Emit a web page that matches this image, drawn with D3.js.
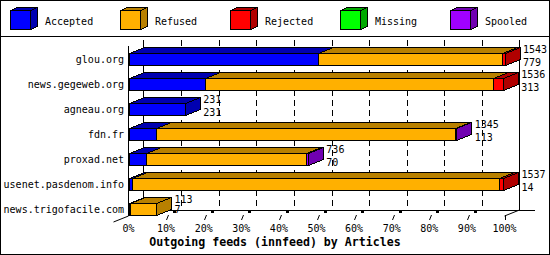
<!DOCTYPE html>
<html>
<head>
<meta charset="utf-8">
<script src="https://cdn.jsdelivr.net/npm/d3@7"></script>
<style>
  body { margin: 0; background: #fff; }
  text { font-family: "DejaVu Sans Mono", monospace; font-size: 10px; fill: #000; }
  .title { font-weight: bold; font-size: 11.6px; }
</style>
</head>
<body>
<div id="chart"></div>
<script>
// feeds and their article counts
var hosts = ["glou.org", "news.gegeweb.org", "agneau.org", "fdn.fr",
             "proxad.net", "usenet.pasdenom.info", "news.trigofacile.com"]
var offered  = [1543, 1536, 231, 1345, 736, 1537, 113]
var accepted = [779, 313, 231, 113, 70, 14, 7]
var refused  = [752, 1182, 0, 1226, 659, 1505, 106]
var rejected = [12, 41, 0, 0, 0, 18, 0]
var missing  = [0, 0, 0, 0, 0, 0, 0]
var spooled  = [0, 0, 0, 6, 7, 0, 0]
var tick_labels = ["0%", "10%", "20%", "30%", "40%", "50%", "60%", "70%", "80%", "90%", "100%"]
var legend_names = ["Accepted", "Refused", "Rejected", "Missing", "Spooled"]

var front_colors = ["#0000ff", "#ffb000", "#ff0000", "#00ff00", "#a000ff"]
var dark_colors  = ["#0000b0", "#b88000", "#b00000", "#00a800", "#7000b0"]

var width = 550, height = 255
    dx = 15, dy = 6  // 3d depth
    floor_y = 216
    top_y = 46
    bar_h = 12

var svg = d3.select("#chart").append("svg")
    .attr("width", width)
    .attr("height", height)
    .style("shape-rendering", "crispEdges");

// border + legend separator
svg.append("rect").attr("x", 0.5).attr("y", 0.5)
    .attr("width", width - 1).attr("height", height - 1)
    .attr("fill", "#fff").attr("stroke", "#000");
svg.append("line").attr("x1", 0).attr("x2", width)
    .attr("y1", 36.5).attr("y2", 36.5).attr("stroke", "#000");

// ---------------------------------------------------------------
// legend
var leg = svg.selectAll(".leg").data(legend_names).enter().append("g")
    .attr("transform", function(d, i) { return "translate(" + (10.5 + i * 110) + ",10.5)"; });

function box3d(g, x0, x1, y0, y1, ddx, ddy, front, dark, side) {
  g.append("path")
    .attr("d", "M" + x0 + "," + y0 + "L" + (x0 + ddx) + "," + (y0 - ddy) +
               "L" + (x1 + ddx) + "," + (y0 - ddy) + "L" + x1 + "," + y0 + "Z")
    .attr("fill", dark).attr("stroke", "#000");
  if (side) {
    g.append("path")
      .attr("d", "M" + x1 + "," + y0 + "L" + (x1 + ddx) + "," + (y0 - ddy) +
                 "L" + (x1 + ddx) + "," + (y1 - ddy) + "L" + x1 + "," + y1 + "Z")
      .attr("fill", dark).attr("stroke", "#000");
  }
  g.append("rect").attr("x", x0).attr("y", y0)
    .attr("width", Math.max(x1 - x0, 0)).attr("height", y1 - y0)
    .attr("fill", front).attr("stroke", "#000");
}

leg.each(function(d, i) {
  box3d(d3.select(this), 0, 20, 0, 19, 7, 3, front_colors[i], dark_colors[i], true);
  d3.select(this).append("text").attr("x", 34.5).attr("y", 14.5).text(d);
});

// ---------------------------------------------------------------
// scales
var max_total = d3.max(offered)
var x_pct = d3.scaleLinear().domain([0, 100]).range([128.5, 504.5]);
function x_count(c) { return x_pct(c / max_total * 100); }

var y = d3.scalePoint().domain(hosts).range([59, 209]);

// back wall gridlines (dashed)
var grid_vals = d3.range(10, 100, 10)
svg.selectAll(".grid").data(grid_vals).enter().append("line")
    .attr("x1", function(d) { return Math.round(x_pct(d) + dx) + 0.5; })
    .attr("x2", function(d) { return Math.round(x_pct(d) + dx) + 0.5; })
    .attr("y1", top_y - dy).attr("y2", floor_y - dy)
    .attr("stroke", "#000").attr("stroke-dasharray", "6,4");

// frame lines
var frame = svg.append("g").attr("stroke", "#000");
frame.append("line").attr("x1", x_pct(0) + dx).attr("x2", x_pct(0) + dx)
    .attr("y1", top_y - dy).attr("y2", floor_y - dy);
frame.append("line").attr("x1", x_pct(100) + dx).attr("x2", x_pct(100) + dx)
    .attr("y1", top_y - dy).attr("y2", floor_y - dy);
frame.append("line").attr("x1", x_pct(0) + dx).attr("x2", 535)
    .attr("y1", floor_y - dy + 0.5).attr("y2", floor_y - dy + 0.5);
frame.append("line").attr("x1", x_pct(100)).attr("x2", x_pct(100) + dx)
    .attr("y1", floor_y).attr("y2", floor_y - dy).style("shape-rendering", "auto");
frame.append("line").attr("x1", x_pct(0) - dx).attr("x2", x_pct(0))
    .attr("y1", floor_y + dy).attr("y2", floor_y).style("shape-rendering", "auto");
frame.append("line").attr("x1", x_pct(0)).attr("x2", x_pct(0))
    .attr("y1", top_y).attr("y2", floor_y);

// ticks on the floor
var tick_vals = d3.range(0, 101, 10)
tick_vals.forEach(function(v, i) {
  var tx = Math.round(x_pct(v)) + 0.5;
  if (v === 0) return;
  if (v === 100) {
    frame.append("line").attr("x1", tx).attr("x2", tx).attr("y1", floor_y - 1).attr("y2", floor_y + 4);
  } else {
    frame.append("line").attr("x1", tx).attr("x2", tx + 2)
        .attr("y1", floor_y + 4).attr("y2", floor_y - 1).style("shape-rendering", "auto");
    frame.append("rect").attr("x", tx + 7).attr("y", floor_y - 5.5)
        .attr("width", 2).attr("height", 1.5).attr("fill", "#000");
  }
});

svg.selectAll(".tlab").data(tick_vals).enter().append("text")
    .attr("x", function(d) { return x_pct(d); })
    .attr("y", 232)
    .attr("text-anchor", "middle")
    .text(function(d, i) { return tick_labels[i]; });

// ---------------------------------------------------------------
// bars
var series = [accepted, refused, rejected, missing, spooled]

hosts.forEach(function(h, i) {
  var g = svg.append("g");
  var y0 = y(h) - bar_h / 2 + 0.5, y1 = y0 + bar_h;
  var cum = 0, last = -1;
  series.forEach(function(s, k) { if (s[i] > 0) last = k; });
  series.forEach(function(s, k) {
    if (s[i] <= 0) return;
    var xa = Math.round(x_count(cum)) + 0.5;
    cum += s[i];
    var xb = Math.round(x_count(cum)) + 0.5;
    box3d(g, xa, xb, y0, y1, dx, dy, front_colors[k], dark_colors[k], k === last);
  });
  var end = x_count(offered[i]);
  g.append("text").attr("x", end + 18.5).attr("y", y(h) - 6).text(offered[i]);
  g.append("text").attr("x", end + 18.5).attr("y", Math.min(y(h) + 7, 213)).text(accepted[i]);
});

// category labels
svg.selectAll(".hlab").data(hosts).enter().append("text")
    .attr("x", 124)
    .attr("y", function(d) { return y(d) + 4; })
    .attr("text-anchor", "end")
    .text(function(d) { return d; });

svg.append("text").attr("class", "title")
    .attr("x", 275).attr("y", 246)
    .attr("text-anchor", "middle")
    .text("Outgoing feeds (innfeed) by Articles");
</script>
</body>
</html>
